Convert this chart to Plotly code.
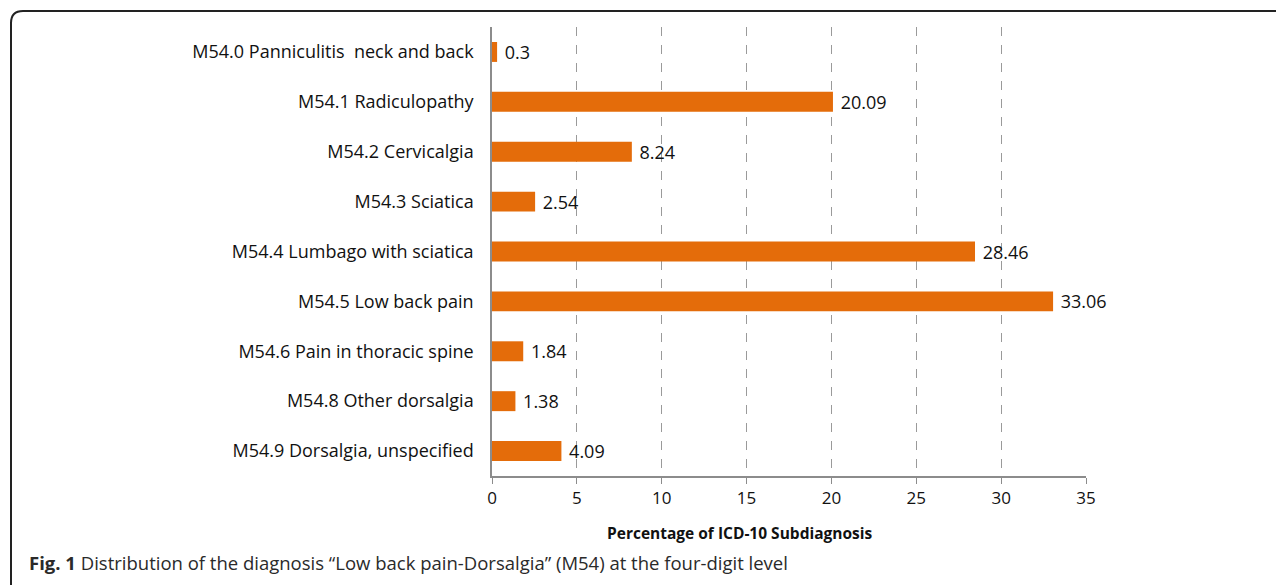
import plotly.graph_objects as go

categories = [
    "M54.0 Panniculitis  neck and back",
    "M54.1 Radiculopathy",
    "M54.2 Cervicalgia",
    "M54.3 Sciatica",
    "M54.4 Lumbago with sciatica",
    "M54.5 Low back pain",
    "M54.6 Pain in thoracic spine",
    "M54.8 Other dorsalgia",
    "M54.9 Dorsalgia, unspecified",
]
values = [0.3, 20.09, 8.24, 2.54, 28.46, 33.06, 1.84, 1.38, 4.09]
value_labels = ["0.3", "20.09", "8.24", "2.54", "28.46", "33.06", "1.84", "1.38", "4.09"]
tick_vals = [0, 5, 10, 15, 20, 25, 30, 35]

FONT = "Open Sans"
# page body has an 8px margin, so the figure is sized/offset to compensate
OFF = 8
W, H = 1284 - OFF, 588 - OFF
L, R, T, B = 492 - OFF, 198, 27 - OFF, 112
PW, PH = W - L - R, H - T - B


def px(x):
    return (x - OFF - L) / PW


def py(y):
    return 1 - (y - OFF - T) / PH


fig = go.Figure(go.Bar(
    x=values, y=categories, orientation="h",
    marker=dict(color="#E46C0A", line=dict(width=0)),
    text=value_labels, texttemplate=" %{text}", textposition="outside",
    constraintext="none", cliponaxis=False,
    textfont=dict(family=FONT, size=18, color="#111111"),
    width=0.4,
))

fig.update_layout(
    width=W, height=H,
    margin=dict(l=L, r=R, t=T, b=B, pad=0),
    paper_bgcolor="white", plot_bgcolor="white",
    showlegend=False,
    font=dict(family=FONT, size=18, color="#111111"),
    xaxis=dict(
        range=[0, 35], tickvals=tick_vals, ticktext=[str(v) for v in tick_vals],
        showgrid=True, gridcolor="#9a9a9a", griddash="dash", gridwidth=1,
        showline=True, linecolor="#8c8c8c", linewidth=1.5,
        ticks="outside", ticklen=6, tickcolor="#8c8c8c",
        zeroline=False,
        tickfont=dict(family=FONT, size=17, color="#111111"),
    ),
    yaxis=dict(
        autorange="reversed", showgrid=False,
        showline=True, linecolor="#8c8c8c", linewidth=1.5,
        ticks="", ticklabelstandoff=13,
        tickfont=dict(family=FONT, size=18, color="#111111"),
    ),
)

# x-axis title (sits left of the plot-area centre in the original)
fig.add_annotation(
    xref="paper", yref="paper", x=px(740), y=py(533),
    xanchor="center", yanchor="middle", showarrow=False,
    text="<b>Percentage of ICD-10 Subdiagnosis</b>",
    font=dict(family=FONT, size=15.5, color="#111111"),
)

# rounded border around the figure (right side runs off the page)
bx, by_top, by_bot, rad = 11, 11, 585, 12
path = (
    f"M {px(bx)} {py(by_bot)} "
    f"Q {px(bx)} {py(by_bot - 2)} {px(bx)} {py(by_bot - rad)} "
    f"L {px(bx)} {py(by_top + rad)} "
    f"Q {px(bx)} {py(by_top)} {px(bx + rad)} {py(by_top)} "
    f"L {px(1300)} {py(by_top)}"
)
fig.add_shape(type="path", xref="paper", yref="paper", path=path,
              line=dict(color="#222222", width=2))

fig.add_annotation(
    xref="paper", yref="paper", x=px(27), y=py(562),
    xanchor="left", yanchor="middle", showarrow=False,
    text="<b>Fig. 1</b> Distribution of the diagnosis \u201cLow back pain-Dorsalgia\u201d (M54) at the four-digit level",
    font=dict(family=FONT, size=18.5, color="#2a2a2a"),
)

fig.write_html("out.html")
